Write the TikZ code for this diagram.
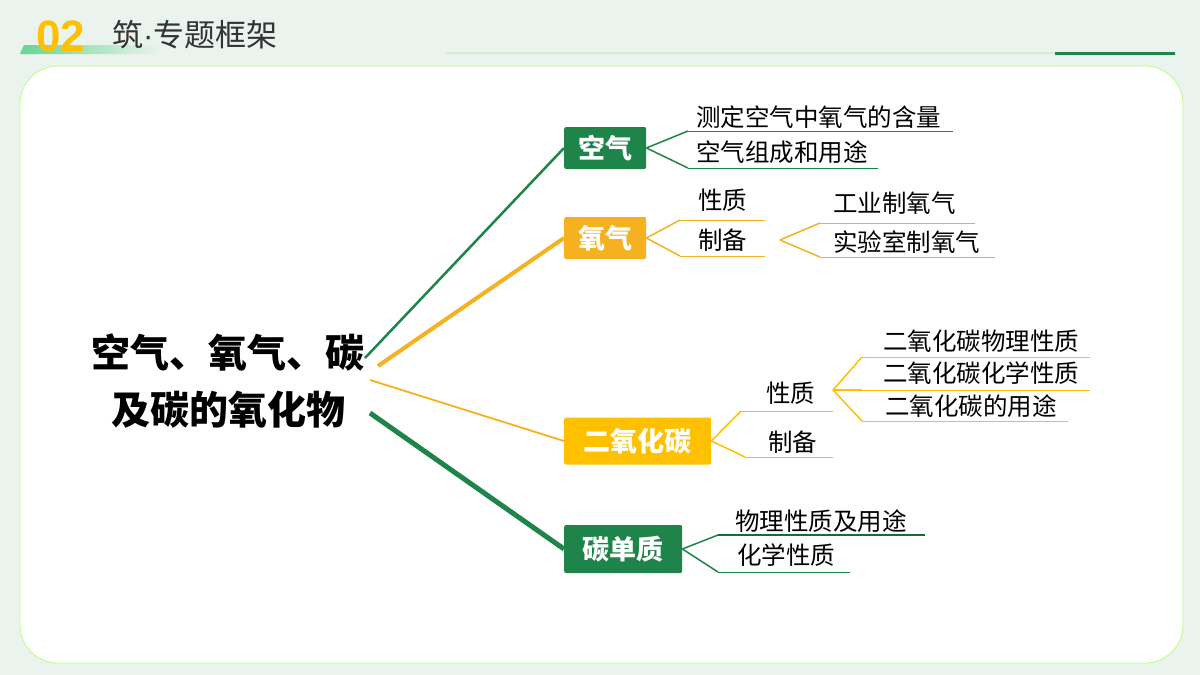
\documentclass[tikz,border=0pt]{standalone}
\usepackage{fontspec}
\setmainfont{Noto Sans CJK SC}
\newfontfamily\hfont{Liberation Sans}
\usetikzlibrary{calc}
\definecolor{dg}{HTML}{1E8449}
\definecolor{og}{HTML}{F5B120}
\definecolor{yg}{HTML}{FFC000}
\definecolor{bgc}{HTML}{EAF3EE}
\definecolor{lg}{HTML}{D9EBCF}
\tikzset{
 box/.style={rounded corners=2pt,text=white,font=\fontsize{27}{27}\selectfont\bfseries,inner sep=0pt,anchor=west},
 lbl/.style={font=\fontsize{24.5}{24.5}\selectfont,anchor=west,inner sep=0pt},
}
\newcommand{\sbranch}[3]{\draw[#3] (#1) .. controls ($(#1)!0.5!(#2)$ |- #1) and ($(#1)!0.5!(#2)$ |- #2) .. (#2);}
\begin{document}
\begin{tikzpicture}[x=1pt,y=-1pt]
\useasboundingbox (0,0) rectangle (1200,675);
\fill[bgc] (0,0) rectangle (1200,675);
% header
\shade[left color=green!45!teal!60,right color=bgc] (24,45) -- (160,45) -- (160,54) -- (20,54) -- cycle;
\node[anchor=west,inner sep=0pt,text=yg,font=\hfont\fontsize{44}{44}\selectfont\bfseries] (num) at (36,36) {02};
\node[anchor=west,inner sep=0pt,text=black!80,font=\fontsize{31}{31}\selectfont] (title) at (112,35) {筑{\hfont·}专题框架};
\draw[lg,line width=1.2] (445,53) -- (1175,53);
\draw[dg,line width=3] (1055,53) -- (1175,53);
% main panel
\draw[fill=white,draw=green!40!lime!50,line width=0.8,rounded corners=38] (20,66) rectangle (1183,663);
% center
\node[font=\fontsize{39}{39}\selectfont\bfseries,inner sep=0pt] (c1) at (228,352) {空气、氧气、碳};
\node[font=\fontsize{39}{39}\selectfont\bfseries,inner sep=0pt] (c2) at (228,410) {及碳的氧化物};
\coordinate (r1) at (365,358);
\coordinate (r2) at (378,366);
\coordinate (r3) at (370,380);
\coordinate (r4) at (370,413);
% main boxes
\node[box,fill=dg,minimum width=82,minimum height=42] (kq) at (564,148) {空气};
\node[box,fill=og,minimum width=82,minimum height=42] (yq) at (564,238) {氧气};
\node[box,fill=yg,minimum width=147,minimum height=47] (co2) at (564,441) {二氧化碳};
\node[box,fill=dg,minimum width=118,minimum height=48] (tdz) at (564,549) {碳单质};
\sbranch{r1}{kq.west}{dg,line width=2.5}
\sbranch{r2}{yq.west}{og,line width=4}
\sbranch{r3}{co2.west}{og,line width=1.8}
\sbranch{r4}{tdz.west}{dg,line width=5}
% kongqi children
\coordinate (a1) at (688,131); \coordinate (a1e) at (953,131);
\coordinate (a2) at (688,168); \coordinate (a2e) at (878,168);
\sbranch{kq.east}{a1}{dg,line width=1.5}
\sbranch{kq.east}{a2}{dg,line width=1.5}
\draw[dg,line width=1] (a1) -- (a1e); \draw[dg,line width=1] (a2) -- (a2e);
\node[lbl] (t1) at (696,117) {测定空气中氧气的含量};
\node[lbl] (t2) at (696,152) {空气组成和用途};
% yangqi children
\coordinate (b1) at (680,220); \coordinate (b1e) at (765,220);
\coordinate (b2) at (680,256); \coordinate (b2e) at (765,256);
\sbranch{yq.east}{b1}{og,line width=1.5}
\sbranch{yq.east}{b2}{og,line width=1.5}
\draw[og,line width=1] (b1) -- (b1e); \draw[og,line width=1] (b2) -- (b2e);
\node[lbl] (t3) at (698,200) {性质};
\node[lbl] (t4) at (698,240) {制备};
\coordinate (bp) at (780,240);
\coordinate (d1) at (820,223); \coordinate (d1e) at (975,223);
\coordinate (d2) at (820,257); \coordinate (d2e) at (995,257);
\sbranch{bp}{d1}{og,line width=1.5}
\sbranch{bp}{d2}{og,line width=1.5}
\draw[og,line width=1] (d1) -- (d1e); \draw[og,line width=1] (d2) -- (d2e);
\node[lbl] (t5) at (833,203) {工业制氧气};
\node[lbl] (t6) at (833,242) {实验室制氧气};
% co2 children
\coordinate (e1) at (741,411); \coordinate (e1e) at (833,411);
\coordinate (e2) at (745,457); \coordinate (e2e) at (833,457);
\sbranch{co2.east}{e1}{yg,line width=1.5}
\sbranch{co2.east}{e2}{yg,line width=1.5}
\draw[yg,line width=1] (e1) -- (e1e); \draw[yg,line width=1] (e2) -- (e2e);
\node[lbl] (t7) at (766,393) {性质};
\node[lbl] (t8) at (768,442) {制备};
\coordinate (ep) at (833,390);
\coordinate (f1) at (862,357); \coordinate (f1e) at (1090,357);
\coordinate (f2) at (862,390); \coordinate (f2e) at (1090,390);
\coordinate (f3) at (862,421); \coordinate (f3e) at (1068,421);
\sbranch{ep}{f1}{yg,line width=1.5}
\draw[yg,line width=1.5] (ep) -- (f2);
\sbranch{ep}{f3}{yg,line width=1.5}
\draw[yg,line width=1] (f1) -- (f1e); \draw[yg,line width=1] (f2) -- (f2e); \draw[yg,line width=1] (f3) -- (f3e);
\node[lbl] (t9) at (883,341) {二氧化碳物理性质};
\node[lbl] (t10) at (883,373) {二氧化碳化学性质};
\node[lbl] (t11) at (885,406) {二氧化碳的用途};
% carbon children
\coordinate (g1) at (718,535); \coordinate (g1e) at (925,535);
\coordinate (g2) at (718,572); \coordinate (g2e) at (850,572);
\sbranch{tdz.east}{g1}{dg,line width=1.5}
\sbranch{tdz.east}{g2}{dg,line width=1.5}
\draw[dg!80!black,line width=2] (g1) -- (g1e); \draw[dg,line width=1] (g2) -- (g2e);
\node[lbl] (t12) at (735,521) {物理性质及用途};
\node[lbl] (t13) at (737,555) {化学性质};
\end{tikzpicture}
\end{document}
